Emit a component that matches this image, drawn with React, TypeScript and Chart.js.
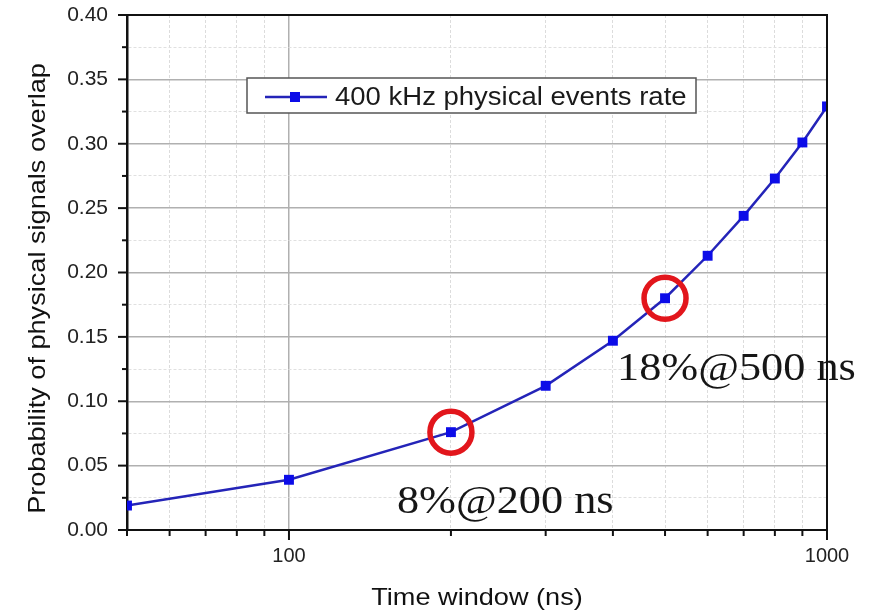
import React, { useEffect, useRef } from 'react';
import { Chart, registerables } from 'chart.js';

Chart.register(...registerables);

// ---- data ----
const timeWindows = [50, 100, 200, 300, 400, 500, 600, 700, 800, 900, 1000];
const overlapProb = [0.019, 0.039, 0.076, 0.112, 0.147, 0.18, 0.213, 0.244, 0.273, 0.301, 0.329];
const seriesLabel = '400 kHz physical events rate';
const xTickValues = [50, 60, 70, 80, 90, 100, 200, 300, 400, 500, 600, 700, 800, 900, 1000];
const xMajorLabels = [100, 1000];
const highlightX = [200, 500];
const highlightText = ['8%@200 ns', '18%@500 ns'];
const xTitle = 'Time window (ns)';
const yTitle = 'Probability of physical signals overlap';

const SANS = '"Liberation Sans", Arial, sans-serif';
const SERIF = '"Liberation Serif", "Times New Roman", serif';
const LINE_COLOR = '#2424b8';
const POINT_COLOR = '#0c0ce8';

function stretchedText(ctx: CanvasRenderingContext2D, text: string, x: number, y: number, sx: number, rot = 0) {
  ctx.save();
  ctx.translate(x, y);
  if (rot) ctx.rotate(rot);
  ctx.scale(sx, 1);
  ctx.fillText(text, 0, 0);
  ctx.restore();
}

export default function App() {
  const ref = useRef<HTMLCanvasElement>(null);

  useEffect(() => {
    const canvas = ref.current;
    if (!canvas) return;

    const annotOffsets = [
      [-54, 81],
      [-48, 82],
    ];

    const decor = {
      id: 'decor',
      afterDatasetsDraw(chart: any) {
        const { ctx } = chart;
        const xs = chart.scales.x;
        const ys = chart.scales.y;
        ctx.save();
        ctx.strokeStyle = '#e2161c';
        ctx.lineWidth = 5.5;
        highlightX.forEach((xv) => {
          const i = timeWindows.indexOf(xv);
          const px = xs.getPixelForValue(xv);
          const py = ys.getPixelForValue(overlapProb[i]);
          ctx.beginPath();
          ctx.arc(px, py, 21, 0, Math.PI * 2);
          ctx.stroke();
        });
        ctx.restore();
      },
      afterDraw(chart: any) {
        const { ctx, chartArea: ca } = chart;
        const xs = chart.scales.x;
        const ys = chart.scales.y;
        ctx.save();

        // annotations
        ctx.fillStyle = '#161616';
        ctx.font = `41px ${SERIF}`;
        ctx.textAlign = 'left';
        ctx.textBaseline = 'alphabetic';
        highlightX.forEach((xv, k) => {
          const i = timeWindows.indexOf(xv);
          const px = xs.getPixelForValue(xv);
          const py = ys.getPixelForValue(overlapProb[i]);
          stretchedText(ctx, highlightText[k], px + annotOffsets[k][0], py + annotOffsets[k][1], 1.08);
        });

        // frame top / right
        ctx.strokeStyle = '#111';
        ctx.lineWidth = 2;
        ctx.beginPath();
        ctx.moveTo(ca.left, ca.top);
        ctx.lineTo(ca.right, ca.top);
        ctx.lineTo(ca.right, ca.bottom);
        ctx.stroke();

        // y tick marks
        ctx.lineWidth = 2;
        ys.ticks.forEach((t: any, i: number) => {
          const py = ys.getPixelForValue(t.value);
          const len = i % 2 === 0 ? 9 : 5;
          ctx.beginPath();
          ctx.moveTo(ca.left - len, py);
          ctx.lineTo(ca.left, py);
          ctx.stroke();
        });
        // x tick marks
        xs.ticks.forEach((t: any) => {
          const px = xs.getPixelForValue(t.value);
          const len = xMajorLabels.includes(t.value) ? 10 : 6;
          ctx.beginPath();
          ctx.moveTo(px, ca.bottom);
          ctx.lineTo(px, ca.bottom + len);
          ctx.stroke();
        });

        // legend box
        const lx = ca.left + 120;
        const ly = ca.top + 63;
        ctx.fillStyle = '#ffffff';
        ctx.fillRect(lx, ly, 449, 35);
        ctx.strokeStyle = '#555';
        ctx.lineWidth = 1.5;
        ctx.strokeRect(lx, ly, 449, 35);
        ctx.strokeStyle = LINE_COLOR;
        ctx.lineWidth = 2.5;
        ctx.beginPath();
        ctx.moveTo(lx + 18, ly + 19);
        ctx.lineTo(lx + 80, ly + 19);
        ctx.stroke();
        ctx.fillStyle = POINT_COLOR;
        ctx.fillRect(lx + 48 - 5, ly + 19 - 5, 10, 10);
        ctx.fillStyle = '#1a1a1a';
        ctx.font = `25px ${SANS}`;
        stretchedText(ctx, seriesLabel, lx + 88, ly + 27, 1.1);

        // axis titles
        ctx.fillStyle = '#111';
        ctx.font = `24px ${SANS}`;
        ctx.textAlign = 'center';
        stretchedText(ctx, xTitle, (ca.left + ca.right) / 2, ca.bottom + 75, 1.13);
        stretchedText(ctx, yTitle, 45, (ca.top + ca.bottom) / 2 + 16, 1.13, -Math.PI / 2);

        ctx.restore();
      },
    };

    const chart = new Chart(canvas, {
      type: 'line',
      data: {
        datasets: [
          {
            label: seriesLabel,
            data: timeWindows.map((x, i) => ({ x, y: overlapProb[i] })),
            borderColor: LINE_COLOR,
            borderWidth: 2.5,
            pointStyle: 'rect',
            pointRadius: 7,
            pointBackgroundColor: POINT_COLOR,
            pointBorderColor: POINT_COLOR,
            pointBorderWidth: 0,
            tension: 0,
            fill: false,
          },
        ],
      },
      options: {
        animation: false,
        responsive: true,
        maintainAspectRatio: false,
        layout: { padding: { left: 0, right: 42, top: 15, bottom: 0 } },
        plugins: {
          legend: { display: false },
          tooltip: { enabled: false },
          title: { display: false },
        },
        scales: {
          x: {
            type: 'logarithmic',
            min: 50,
            max: 1000,
            afterBuildTicks: (scale: any) => {
              scale.ticks = xTickValues.map((v) => ({ value: v, major: xMajorLabels.includes(v) }));
            },
            afterFit: (scale: any) => {
              scale.height = 86;
              scale.paddingLeft = 0;
              scale.paddingRight = 0;
            },
            ticks: {
              autoSkip: false,
              maxRotation: 0,
              padding: 14,
              color: '#222',
              font: { family: SANS, size: 20 },
              callback: (v: any) => (xMajorLabels.includes(Number(v)) ? String(v) : ''),
            },
            grid: {
              drawTicks: false,
              color: (c: any) => (c.tick && xMajorLabels.includes(c.tick.value) ? '#b0b0b0' : '#dcdcdc'),
              lineWidth: (c: any) => (c.tick && xMajorLabels.includes(c.tick.value) ? 1.5 : 1),
            },
            border: {
              display: true,
              color: '#111',
              width: 2,
              dash: (c: any) => (c.tick && !xMajorLabels.includes(c.tick.value) ? [3, 2] : []),
            },
          },
          y: {
            type: 'linear',
            min: 0,
            max: 0.4,
            afterFit: (scale: any) => {
              scale.width = 127;
              scale.paddingTop = 0;
              scale.paddingBottom = 0;
            },
            ticks: {
              stepSize: 0.025,
              padding: 19,
              color: '#222',
              font: { family: SANS, size: 21 },
              callback: (v: any, i: number) => (i % 2 === 0 ? Number(v).toFixed(2) : ''),
            },
            grid: {
              drawTicks: false,
              color: (c: any) => (c.index % 2 === 0 ? '#b0b0b0' : '#e0e0e0'),
              lineWidth: (c: any) => (c.index % 2 === 0 ? 1.5 : 1),
            },
            border: {
              display: true,
              color: '#111',
              width: 2.5,
              dash: (c: any) => (c.tick && c.index % 2 === 1 ? [3, 2] : []),
            },
          },
        },
      },
      plugins: [decor],
    } as any);

    return () => {
      chart.destroy();
    };
  }, []);

  return (
    <div style={{ position: 'fixed', left: 0, top: 0, width: 869, height: 616, background: '#fff' }}>
      <canvas ref={ref} />
    </div>
  );
}
